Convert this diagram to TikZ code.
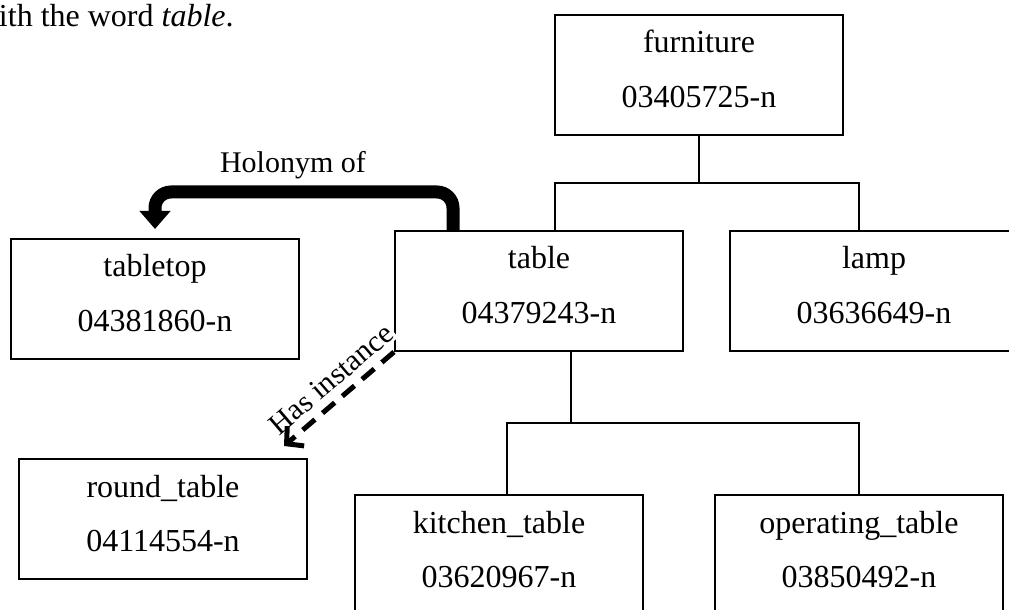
\documentclass[tikz,border=0pt]{standalone}
\usepackage{fontspec}
\setmainfont{Liberation Serif}
\usetikzlibrary{arrows.meta,calc}
\newcommand{\wnbox}[4]{%
  \node[wbox] (#1) at (#2) {};
  \node[wtext] (#1-a) at ($(#1.north)+(0,39)$) {#3};
  \node[wtext] (#1-b) at ($(#1.north)+(0,94)$) {#4};}
\begin{document}
\begin{tikzpicture}[x=0.5pt,y=-0.5pt,
  wbox/.style={draw,line width=1pt,minimum width=144pt,minimum height=60pt,inner sep=0pt},
  wtext/.style={anchor=base,inner sep=0pt,font=\fontsize{16}{19}\selectfont},
  conn/.style={line width=1pt},
  lbl/.style={font=\fontsize{15}{18}\selectfont,inner sep=1pt},
  holo/.style={line width=6.5pt,rounded corners=8pt,-{Triangle[width=15pt,length=9pt]},shorten >=4.5pt},
  inst/.style={line width=2.5pt,dash pattern=on 8pt off 5pt,-{Straight Barb[length=6pt,width=13pt]}}]
\useasboundingbox (0,0) rectangle (1009,610);
\clip (0,0) rectangle (1009,610);
\node[wtext,anchor=base east] (intro) at (234,27) {with the word \textit{table}.};
\wnbox{furn}{699,75}{furniture}{03405725-n}
\wnbox{table}{539,291}{table}{04379243-n}
\wnbox{lamp}{874,291}{lamp}{03636649-n}
\wnbox{tabletop}{155,299}{tabletop}{04381860-n}
\wnbox{round}{163,519}{round\_table}{04114554-n}
\wnbox{kitchen}{499,555}{kitchen\_table}{03620967-n}
\wnbox{oper}{859,555}{operating\_table}{03850492-n}
\coordinate (j1) at (699,183);
\coordinate (j2) at (571,423);
\draw[conn] (furn.south) -- (j1);
\draw[conn] ([xshift=8pt]table.north) |- (j1) -| ([xshift=-7.5pt]lamp.north);
\draw[conn] ([xshift=16pt]table.south) -- (j2);
\draw[conn] ([xshift=4pt]kitchen.north) |- (j2) -| (oper.north);
\coordinate (h1) at (0,192);
\node[lbl,anchor=base] (holonym) at (293,173) {Holonym of};
\draw[holo] ([xshift=-43pt]table.north) |- (tabletop.north |- h1) -- (tabletop.north);
\node[lbl,fill=white,rotate=40.6] (hasinst) at (331,379) {Has instance};
\draw[inst] (table.south west) -- ($(round.north east)+(-24,-12)$);
\end{tikzpicture}
\end{document}
